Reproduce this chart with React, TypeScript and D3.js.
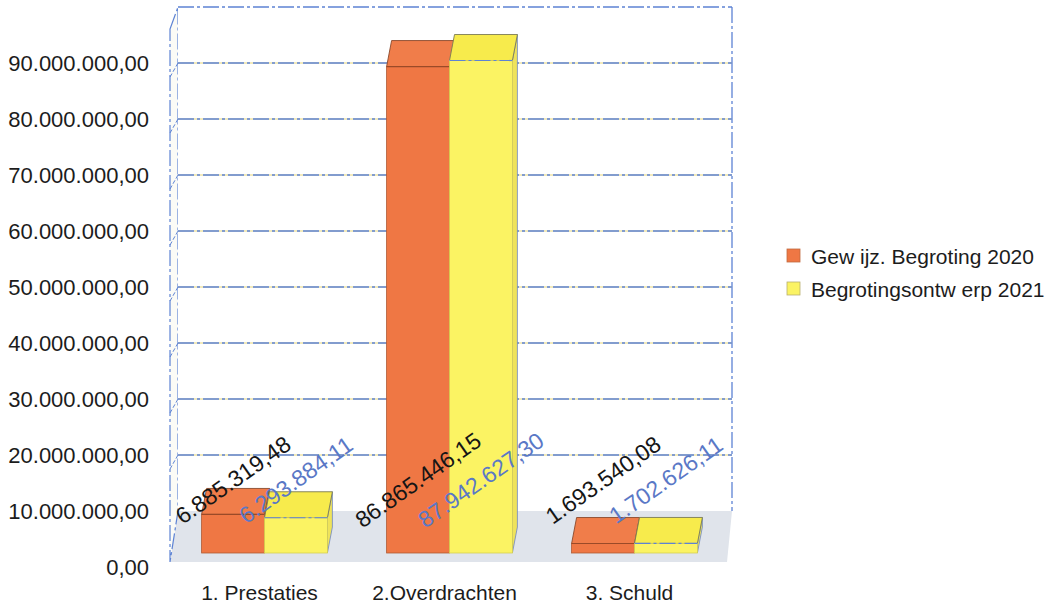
import React from 'react';
import * as d3 from 'd3';

// Budget categories and the two budget series
const categories = ['1. Prestaties', '2.Overdrachten', '3. Schuld'];
const seriesNames = ['Gew ijz. Begroting 2020', 'Begrotingsontw erp 2021'];
const begroting2020 = [6885319.48, 86865446.15, 1693540.08];
const ontwerp2021 = [6293884.11, 87942627.3, 1702626.11];
const yTicks = [0, 1e7, 2e7, 3e7, 4e7, 5e7, 6e7, 7e7, 8e7, 9e7];

const W = 1055;
const H = 616;
const FONT = "'Liberation Sans', Arial, Helvetica, sans-serif";

// 3D look: depth offset of the bar boxes
const DX = 5;
const DY = -26;

const fills = [
  { front: '#ef7744', top: '#f07d4a', side: '#d9642f', edge: '#8a4a2c', label: '#151515' },
  { front: '#fbf363', top: '#f7eb4c', side: '#efe35a', edge: '#6f86c4', label: '#5a78c6' },
];

const nl = d3.formatLocale({ decimal: ',', thousands: '.', grouping: [3], currency: ['€', ''] });
const fmt = nl.format(',.2f');

const gridStroke = '#5d83d4';
const gridDash = '16 3 3 3';

export default function App() {
  const series = [begroting2020, ontwerp2021];

  const x = d3.scaleBand<string>().domain(categories).range([172, 727]).paddingInner(0.32).paddingOuter(0.16);
  const xs = d3.scaleBand<number>().domain([0, 1]).range([0, x.bandwidth()]);
  const yAxis = d3.scaleLinear().domain([0, 9e7]).range([567, 63]);
  const yBar = d3.scaleLinear().domain([0, 1e8]).range([553, -7]);

  const wallL = 178;
  const wallR = 732;
  const wallT = yAxis(1e8);
  const wallB = yAxis(1e7);
  const sideL = 170;
  const floorFront = yBar(0) + 9;

  const gridValues = yTicks.filter((v) => v >= 2e7);

  const bars: any[] = [];
  categories.forEach((c, i) => {
    series.forEach((vals, s) => {
      const v = vals[i];
      const x0 = (x(c) as number) + (xs(s) as number);
      const w = xs.bandwidth();
      bars.push({ key: `${i}-${s}`, s, v, x0, w, yTop: yBar(v), yBase: yBar(0) });
    });
  });

  const labelY = yBar(0) - 73;

  return (
    <svg
      width={W}
      height={H}
      viewBox={`0 0 ${W} ${H}`}
      style={{ position: 'absolute', left: 0, top: 0, background: '#fff', fontFamily: FONT }}
    >
      {/* floor */}
      <polygon
        points={`${wallL},${wallB} ${wallR},${wallB} ${wallR - 5},${floorFront} ${sideL},${floorFront}`}
        fill="#e0e4eb"
      />
      {/* left side wall */}
      <polygon
        points={`${sideL},${wallT + 22} ${wallL},${wallT} ${wallL},${wallB} ${sideL},${floorFront}`}
        fill="#fbfbf6"
        stroke={gridStroke}
        strokeWidth={1.2}
        strokeDasharray={gridDash}
      />
      {/* back wall */}
      <rect x={wallL} y={wallT} width={wallR - wallL} height={wallB - wallT} fill="#ffffff" />
      <line x1={wallL} x2={wallR} y1={wallT} y2={wallT} stroke={gridStroke} strokeWidth={1.3} strokeDasharray={gridDash} />
      <line x1={wallR} x2={wallR} y1={wallT} y2={wallB} stroke={gridStroke} strokeWidth={1.3} strokeDasharray={gridDash} />
      {gridValues.map((v) => (
        <g key={v}>
          <line x1={wallL} x2={wallR} y1={yAxis(v)} y2={yAxis(v)} stroke="#eee3a6" strokeWidth={1.4} />
          <line
            x1={wallL}
            x2={wallR}
            y1={yAxis(v)}
            y2={yAxis(v)}
            stroke={gridStroke}
            strokeWidth={1.3}
            strokeDasharray={gridDash}
          />
          <line
            x1={sideL}
            x2={wallL}
            y1={yAxis(v) + 14}
            y2={yAxis(v)}
            stroke={gridStroke}
            strokeWidth={1}
            strokeDasharray="4 2"
          />
        </g>
      ))}

      {/* bars */}
      {bars.map((b) => {
        const f = fills[b.s];
        const { x0, w, yTop, yBase } = b;
        const top = `${x0},${yTop} ${x0 + DX},${yTop + DY} ${x0 + w + DX},${yTop + DY} ${x0 + w},${yTop}`;
        const side = `${x0 + w},${yTop} ${x0 + w + DX},${yTop + DY} ${x0 + w + DX},${yBase + DY} ${x0 + w},${yBase}`;
        return (
          <g key={b.key}>
            <polygon points={side} fill={f.side} stroke={f.edge} strokeWidth={0.8} />
            <polygon points={top} fill={f.top} stroke={b.s === 0 ? f.edge : '#7a7a55'} strokeWidth={0.9} />
            <rect x={x0} y={yTop} width={w} height={yBase - yTop} fill={f.front} stroke={b.s === 0 ? '#b05a34' : '#d8cf50'} strokeWidth={0.8} />
            <line
              x1={x0}
              x2={x0 + w}
              y1={yTop}
              y2={yTop}
              stroke={b.s === 0 ? '#9a4a28' : gridStroke}
              strokeWidth={1.2}
              strokeDasharray={b.s === 0 ? undefined : gridDash}
            />
          </g>
        );
      })}

      {/* value labels */}
      {bars.map((b) => (
        <text
          key={`l-${b.key}`}
          transform={`translate(${b.x0 + b.w / 2},${labelY}) rotate(-35)`}
          textAnchor="middle"
          dominantBaseline="central"
          fontSize={23}
          fill={fills[b.s].label}
        >
          {fmt(b.v)}
        </text>
      ))}

      {/* y axis labels */}
      {yTicks.map((v) => (
        <text
          key={`t-${v}`}
          x={149}
          y={yAxis(v)}
          textAnchor="end"
          dominantBaseline="central"
          fontSize={22}
          fill="#1c1c1c"
        >
          {fmt(v)}
        </text>
      ))}

      {/* category labels */}
      {categories.map((c) => (
        <text
          key={`c-${c}`}
          x={(x(c) as number) + x.bandwidth() / 2 - 5}
          y={592}
          textAnchor="middle"
          dominantBaseline="central"
          fontSize={21}
          fill="#1c1c1c"
        >
          {c}
        </text>
      ))}

      {/* legend */}
      {seriesNames.map((name, s) => (
        <g key={`lg-${s}`} transform={`translate(787,${249 + s * 33})`}>
          <rect x={0} y={0} width={13} height={13} fill={fills[s].front} stroke={s === 0 ? '#c06a40' : '#b8b070'} strokeWidth={0.8} />
          <text x={24} y={7} dominantBaseline="central" fontSize={21} fill="#1c1c1c">
            {name}
          </text>
        </g>
      ))}
    </svg>
  );
}
